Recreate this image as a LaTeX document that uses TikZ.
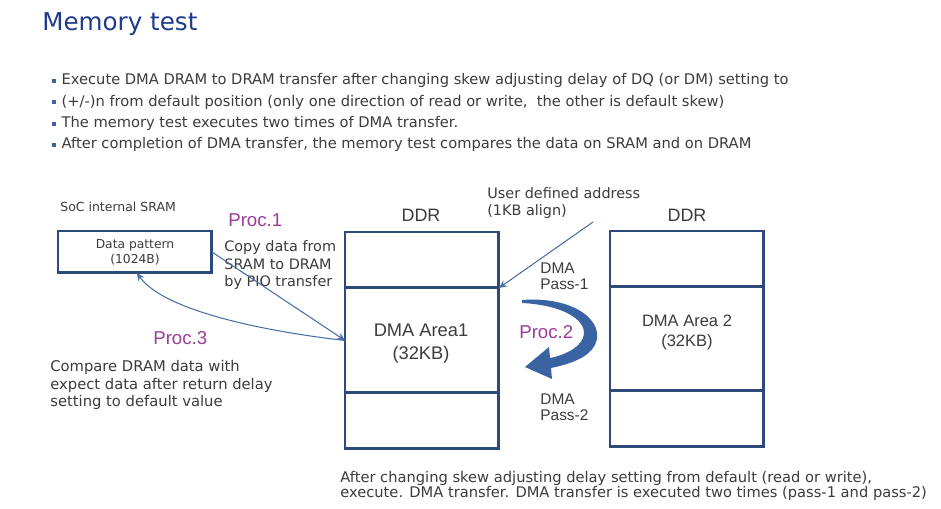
\documentclass[tikz,border=0pt]{standalone}
\usepackage{fontspec}
\setmainfont{DejaVu Sans}
\newfontfamily\arialf{Liberation Sans}
\usetikzlibrary{arrows.meta, positioning}

\definecolor{titleblue}{HTML}{1F3C8C}
\definecolor{boxblue}{HTML}{2E4A7A}
\definecolor{linkblue}{HTML}{4A6EA8}
\definecolor{procpurple}{HTML}{9C3C9C}
\definecolor{txtgray}{HTML}{3C3C3C}
\definecolor{bulletblue}{HTML}{3E62A6}
\definecolor{swirlblue}{HTML}{3A63A2}

\newcommand{\bsq}{\textcolor{bulletblue}{\rule[0.15em]{0.28em}{0.28em}}\hspace{0.35em}}

\begin{document}
\begin{tikzpicture}[x=0.02cm, y=-0.02cm,
    txt/.style={text=txtgray, inner sep=0pt, anchor=base west, font=\fontsize{8.35}{9}\selectfont},
    small/.style={text=txtgray, inner sep=0pt, font=\fontsize{7.1}{8}\selectfont},
    arl/.style={text=txtgray, inner sep=0pt, anchor=base, font=\arialf\fontsize{10.4}{12}\selectfont},
    proclbl/.style={text=procpurple, inner sep=0pt, anchor=base west, font=\arialf\fontsize{10.6}{12}\selectfont},
    cell/.style={draw=boxblue, line width=1.7pt, minimum width=3.08cm, outer sep=0pt, inner sep=0pt},
    link/.style={draw=linkblue, line width=0.6pt, -{Stealth[length=4.5pt,width=4pt]}},
]
    % page
    \fill[white] (0,0) rectangle (941,509);
    \useasboundingbox (0,0) rectangle (941,509);

    % title and bullets
    \node[anchor=base west, inner sep=0pt, text=titleblue, font=\fontsize{14}{16}\selectfont] (title) at (42,31) {Memory test};
    \node[txt] (b1) at (52,85) {\bsq Execute DMA DRAM to DRAM transfer after changing skew adjusting delay of DQ (or DM) setting to};
    \node[txt] (b2) at (52,106.5) {\bsq (+/-)n from default position (only one direction of read or write,\ \ the other is default skew)};
    \node[txt] (b3) at (52,128) {\bsq The memory test executes two times of DMA transfer.};
    \node[txt] (b4) at (52,149) {\bsq After completion of DMA transfer, the memory test compares the data on SRAM and on DRAM};

    % SRAM side
    \node[small, anchor=base west] (sramlbl) at (60,212) {SoC internal SRAM};
    \node[cell, minimum height=0.84cm, anchor=north west, align=center, font=\fontsize{7}{8.6}\selectfont, text=txtgray] (pat) at (58,231) {Data pattern\\(1024B)};
    \node[proclbl] (proc1) at (228,227) {Proc.1};
    \node[txt, align=left, font=\fontsize{8.2}{10}\selectfont] (copytxt) at (224,287) {Copy data from\\SRAM to DRAM\\by PIO transfer};

    % first DDR
    \node[arl, font=\arialf\fontsize{10.2}{12}\selectfont] (ddrA) at (421,222) {DDR};
    \node[cell, minimum height=1.12cm, anchor=north west] (topA) at (345,232) {};
    \node[cell, minimum height=2.1cm, below=0pt of topA] (midA) {};
    \node[cell, minimum height=1.12cm, below=0pt of midA] (botA) {};
    \node[arl] (areaA) at (421,337) {DMA Area1};
    \node[arl] (sizeA) at (421,360) {(32KB)};

    % second DDR
    \node[arl, font=\arialf\fontsize{10.2}{12}\selectfont] (ddrB) at (687,222) {DDR};
    \node[cell, minimum height=1.12cm, anchor=north west] (topB) at (610,231) {};
    \node[cell, minimum height=2.08cm, below=0pt of topB] (midB) {};
    \node[cell, minimum height=1.12cm, below=0pt of midB] (botB) {};
    \node[arl, font=\arialf\fontsize{9.4}{11}\selectfont] (areaB) at (687,327) {DMA Area 2};
    \node[arl, font=\arialf\fontsize{9.4}{11}\selectfont] (sizeB) at (687,347) {(32KB)};

    % address note
    \node[txt, align=left, font=\fontsize{8.2}{10.2}\selectfont] (usrtxt) at (487,216) {User defined address\\(1KB align)};
    \coordinate (usr) at (593,222);

    % DMA passes
    \node[arl, anchor=base west, align=left, font=\arialf\fontsize{8.8}{9.6}\selectfont] (pass1) at (540,290) {DMA\\Pass-1};
    \node[arl, anchor=base west, align=left, font=\arialf\fontsize{8.8}{9.6}\selectfont] (pass2) at (540,421) {DMA\\Pass-2};
    \fill[swirlblue] (522,300) .. controls (575,296) and (606,322) .. (595,345)
        .. controls (588,358) and (570,364) .. (551,368)
        -- (552,379) -- (525,367) -- (549,347) -- (550,358)
        .. controls (566,355) and (583,346) .. (584,334)
        .. controls (585,318) and (560,305) .. (522,303) -- cycle;
    \node[proclbl] (proc2) at (519,339) {Proc.2};

    % compare note
    \node[proclbl] (proc3) at (153,345) {Proc.3};
    \node[txt, align=left, font=\fontsize{8.4}{10}\selectfont] (cmptxt) at (50,407) {Compare DRAM data with\\expect data after return delay\\setting to default value};

    % bottom note
    \node[txt, align=left, font=\fontsize{8.35}{9.1}\selectfont] (note) at (340,498) {After changing skew adjusting delay setting from default (read or write),\\execute. DMA transfer. DMA transfer is executed two times (pass-1 and pass-2)};

    % connectors
    \draw[link] (usr) -- (topA.south east);
    \draw[link] (pat.east) -- (midA.west);
    \draw[link] (midA.west) .. controls (270,332) and (165,312) .. (pat.-85);
\end{tikzpicture}
\end{document}
